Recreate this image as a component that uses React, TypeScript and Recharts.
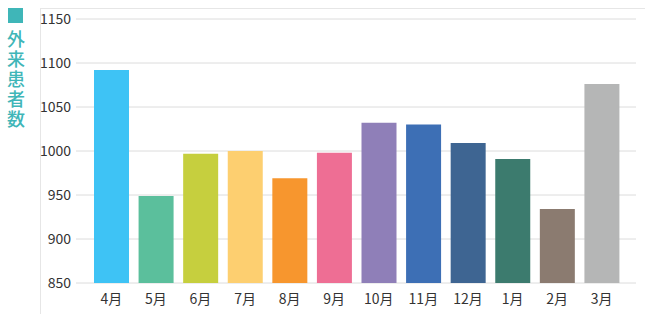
import React from 'react';
import { BarChart, Bar, XAxis, YAxis, CartesianGrid, Cell } from 'recharts';

const months = ['4月', '5月', '6月', '7月', '8月', '9月', '10月', '11月', '12月', '1月', '2月', '3月'];
const patients = [1092, 949, 997, 1000, 969, 998, 1032, 1030, 1009, 991, 934, 1076];
const barColors = [
  '#3ec3f5', '#5bbf9c', '#c6cf3e', '#fdcf70', '#f7962e', '#ee6e94',
  '#8f7fb8', '#3d6fb5', '#3e6592', '#3c7b6e', '#8b7b70', '#b5b6b6',
];
const yTicks = [850, 900, 950, 1000, 1050, 1100, 1150];
const title = '外来患者数';

const data = months.map((m, i) => ({ month: m, value: patients[i] }));

const font = '"Noto Sans CJK JP", "Noto Sans", sans-serif';

export default function App() {
  return (
    <div style={{ position: 'absolute', left: 0, top: 0, width: 645, height: 314, background: '#fff', fontFamily: font }}>
      <div style={{ position: 'absolute', left: 40, top: 8, width: 605, height: 306, borderTop: '1px solid #e6e6e6', borderLeft: '1px solid #e6e6e6' }} />
      <div style={{ position: 'absolute', left: 8, top: 8, width: 15, height: 15, background: '#3fb6b8' }} />
      <div
        style={{
          position: 'absolute', left: 5, top: 30, color: '#3fb6b8', fontSize: 18, fontWeight: 500,
          writingMode: 'vertical-rl', letterSpacing: 2, lineHeight: '22px',
        }}
      >
        {title}
      </div>
      <div style={{ position: 'absolute', left: 0, top: 0 }}>
        <BarChart width={645} height={314} data={data} margin={{ top: 19, right: 9, bottom: 1, left: 0 }}>
          <CartesianGrid vertical={false} stroke="#dcdcdc" />
          <XAxis
            dataKey="month"
            height={30}
            axisLine={false}
            tickLine={false}
            padding={{ left: 13, right: 12 }}
            tick={{ fill: '#333', fontSize: 14, fontFamily: font }}
            tickMargin={5}
            interval={0}
          />
          <YAxis
            width={76}
            domain={[850, 1150]}
            ticks={yTicks}
            allowDataOverflow
            axisLine={false}
            tickLine={false}
            tickSize={0}
            tickMargin={5}
            tick={{ fill: '#333', fontSize: 14, fontFamily: font }}
          />
          <Bar dataKey="value" barSize={35} isAnimationActive={false}>
            {data.map((d, i) => (
              <Cell key={d.month} fill={barColors[i]} />
            ))}
          </Bar>
        </BarChart>
      </div>
    </div>
  );
}
